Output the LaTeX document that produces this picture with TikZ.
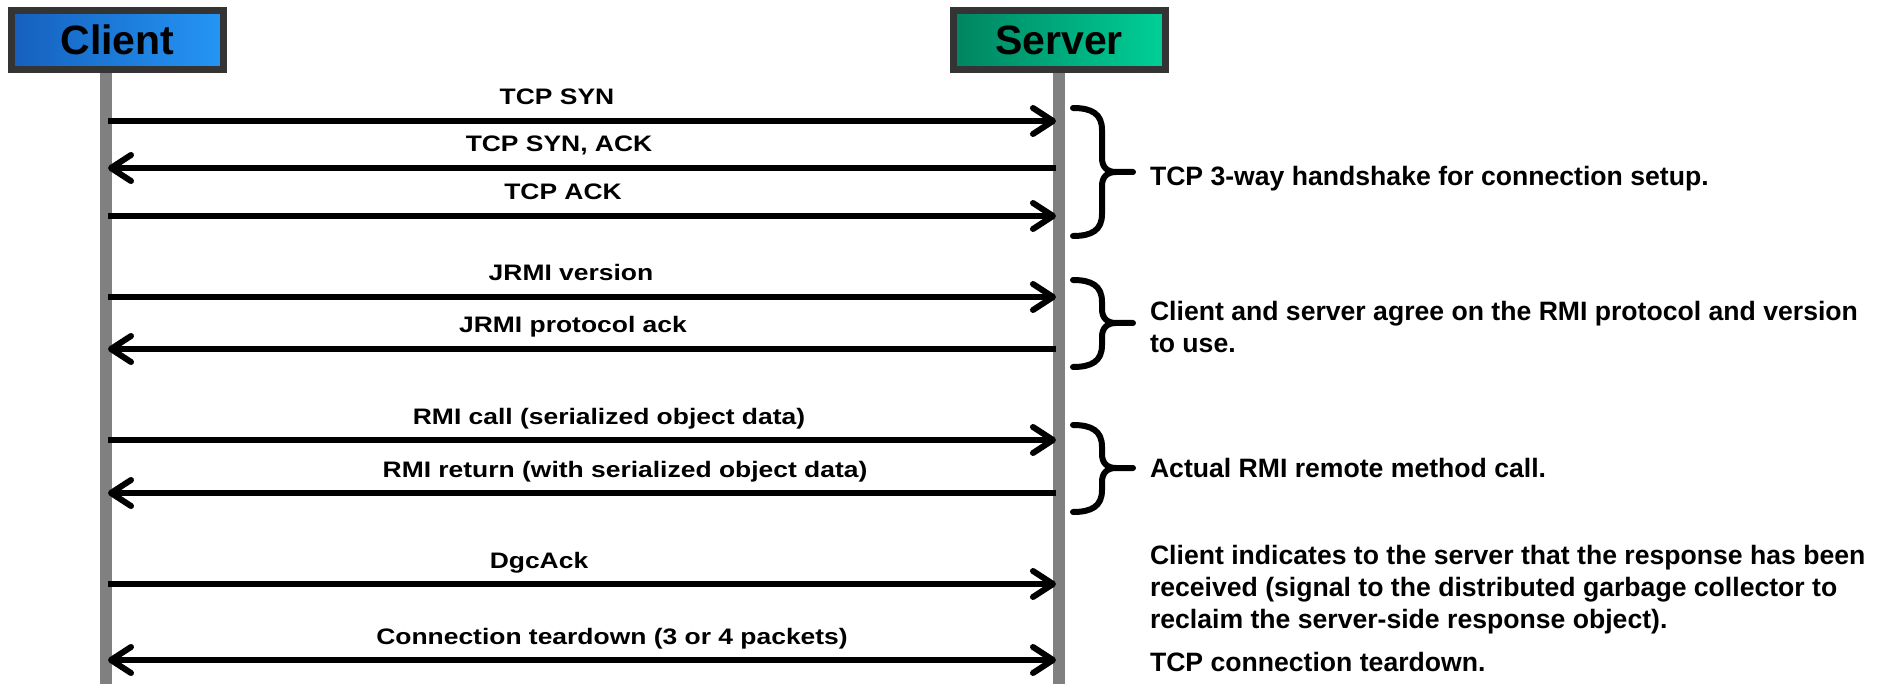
\documentclass[tikz,border=0pt]{standalone}
\usepackage{fontspec}
\setmainfont{Liberation Sans}
\usepackage{graphicx}
\usetikzlibrary{arrows.meta}
\definecolor{clientleft}{RGB}{22,96,190}
\definecolor{clientright}{RGB}{36,150,245}
\definecolor{serverleft}{RGB}{0,132,96}
\definecolor{serverright}{RGB}{0,208,152}
\definecolor{boxline}{RGB}{52,52,52}
\definecolor{lifegray}{RGB}{128,128,128}
\newlength{\lw}
\setlength{\lw}{3pt}
\newcommand{\widetxt}[1]{\scalebox{1.18}[1]{#1}}
\tikzstyle{every picture}+=[x=0.5pt,y=-0.5pt]
\tikzstyle{every picture}+=[line width=\lw]
\tikzstyle{every picture}+=[>={Straight Barb[length=10pt,width=13pt,round]}]
\tikzstyle{actor}=[draw=boxline,line width=3.5pt,inner sep=0pt,minimum width=106pt,minimum height=29.5pt,font=\fontsize{20.5}{24}\selectfont\bfseries]
\tikzstyle{lifeline}=[draw=lifegray,line width=6pt]
\tikzstyle{msg}=[draw=black]
\tikzstyle{fwd}=[->]
\tikzstyle{bwd}=[<-]
\tikzstyle{both}=[<->]
\tikzstyle{msglabel}=[anchor=base,inner sep=0pt,font=\fontsize{11.2}{13}\selectfont\bfseries]
\tikzstyle{note}=[anchor=west,align=left,inner sep=0pt,font=\fontsize{13.3}{16}\selectfont\bfseries]
\tikzstyle{curly}=[line cap=round,line join=round]

\begin{document}
\begin{tikzpicture}
\useasboundingbox (0,0) rectangle (1885,684);

% lifelines
\coordinate (ctop) at (106,73);
\coordinate (cbot) at (106,684);
\coordinate (stop) at (1059,73);
\coordinate (sbot) at (1059,684);
\draw[lifeline] (ctop) -- (cbot);
\draw[lifeline] (stop) -- (sbot);

% actors
\node[actor,left color=clientleft,right color=clientright] (client) at (117.5,40) {Client};
\node[actor,left color=serverleft,right color=serverright] (server) at (1059,40) {Server};

% messages
\foreach \i/\y/\x/\dir/\txt in {1/121/557/fwd/{TCP SYN},2/168/559/bwd/{TCP SYN, ACK},3/216/563/fwd/{TCP ACK},
  4/297/571/fwd/{JRMI version},5/349/573/bwd/{JRMI protocol ack},
  6/440/609/fwd/{RMI call (serialized object data)},7/493/625/bwd/{RMI return (with serialized object data)},
  8/584/539/fwd/{DgcAck},9/660/612/both/{Connection teardown (3 or 4 packets)}}
{
  \coordinate (c\i) at (108,\y);
  \coordinate (s\i) at (1056,\y);
  \draw[msg,\dir] (c\i) -- (s\i);
  \node[msglabel] (m\i) at (\x,\y-16) {\widetxt{\txt}};
}

% braces
\foreach \t/\m/\b in {108/172/236,280/323/367,425/468/512}
  \draw[curly] (1073,\t) .. controls (1092,\t) and (1102,\t+6) .. (1102,\t+22)
    -- (1102,\m-14) .. controls (1102,\m-5) and (1107,\m) .. (1116,\m) -- (1133,\m)
    (1116,\m) .. controls (1107,\m) and (1102,\m+5) .. (1102,\m+14)
    -- (1102,\b-22) .. controls (1102,\b-6) and (1092,\b) .. (1073,\b);

% notes
\node[note] (hs) at (1147,179) {TCP 3-way handshake for connection setup.};
\node[note] (ver) at (1147,327) {Client and server agree on the RMI protocol and version\\to use.};
\node[note] (call) at (1147,468) {Actual RMI remote method call.};
\node[note] (dgc) at (1147,590) {Client indicates to the server that the response has been\\received (signal to the distributed garbage collector to\\reclaim the server-side response object).};
\node[note] (fin) at (1147,662) {TCP connection teardown.};
\end{tikzpicture}
\end{document}
